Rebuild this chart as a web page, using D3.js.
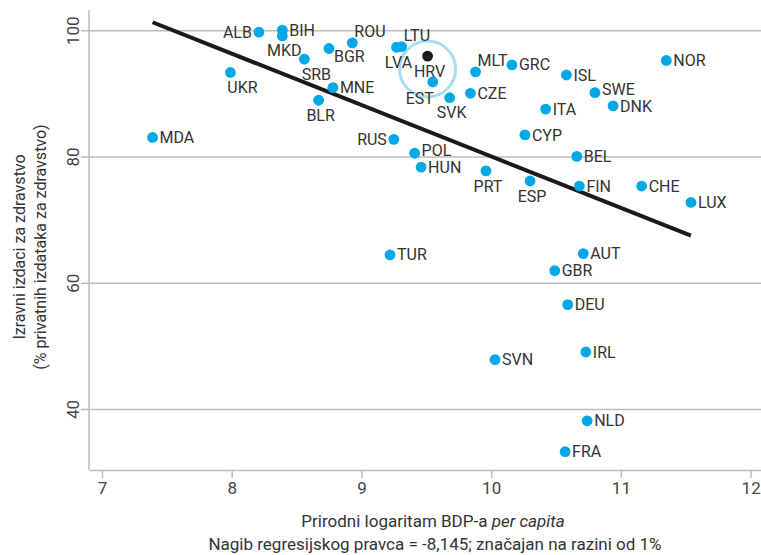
<!DOCTYPE html>
<html>
<head>
<meta charset="utf-8">
<script src="https://cdn.jsdelivr.net/npm/d3@7"></script>
<style>
  body { margin: 0; background: #fff; }
  svg text { font-family: Roboto, "Noto Sans", sans-serif; }
</style>
</head>
<body>
<div id="chart"></div>
<script>
// country codes, log GDP per capita, out-of-pocket share of private health spending
const countries = ['ALB', 'BIH', 'MKD', 'BGR', 'SRB', 'UKR', 'MNE', 'BLR', 'MDA', 'ROU',
  'LVA', 'LTU', 'HRV', 'EST', 'SVK', 'MLT', 'GRC', 'CZE', 'ISL', 'ITA', 'CYP', 'NOR',
  'SWE', 'DNK', 'BEL', 'FIN', 'CHE', 'LUX', 'RUS', 'POL', 'HUN', 'PRT', 'ESP', 'TUR',
  'AUT', 'GBR', 'DEU', 'SVN', 'IRL', 'NLD', 'FRA'];
const lnGdp = [8.21, 8.39, 8.39, 8.75, 8.56, 7.99, 8.78, 8.67, 7.39, 8.93,
  9.27, 9.31, 9.51, 9.55, 9.68, 9.88, 10.16, 9.84, 10.58, 10.42, 10.26, 11.35,
  10.80, 10.94, 10.66, 10.68, 11.16, 11.54, 9.25, 9.41, 9.46, 9.96, 10.30, 9.22,
  10.71, 10.49, 10.59, 10.03, 10.73, 10.74, 10.57];
const oopShare = [99.8, 100.1, 99.2, 97.2, 95.5, 93.4, 91.0, 89.0, 83.1, 98.1,
  97.4, 97.5, 96.0, 91.9, 89.4, 93.5, 94.6, 90.1, 93.0, 87.6, 83.5, 95.3,
  90.2, 88.1, 80.1, 75.4, 75.4, 72.8, 82.8, 80.6, 78.4, 77.8, 76.2, 64.5,
  64.7, 62.0, 56.6, 47.9, 49.1, 38.2, 33.3];
const highlight = 'HRV';
const ringAround = ['HRV', 'EST'];

// label side for each country (r = right by default)
const labelSide = {
  ALB: 'l', RUS: 'l', MKD: 'b', UKR: 'bR', SRB: 'bR', BLR: 'b', HRV: 'b', LVA: 'b',
  SVK: 'b', PRT: 'b', ESP: 'b', EST: 'bL', BGR: 'rb', ROU: 'tr', LTU: 'tr', MLT: 'tr',
  SWE: 'ru', POL: 'ru'
};

const xTicks = [7, 8, 9, 10, 11, 12];
const yTicks = [40, 60, 80, 100];
const slope = -8.145;
const intercept = 161.55;

const xTitle = 'Prirodni logaritam BDP-a ';
const xTitleItalic = 'per capita';
const subTitle = 'Nagib regresijskog pravca = -8,145; značajan na razini od 1%';
const yTitle = ['Izravni izdaci za zdravstvo', '(% privatnih izdataka za zdravstvo)'];

const W = 761, H = 555;
const margin = { top: 10, right: 0, bottom: 85, left: 89 };

const points = countries.map((c, i) => ({ code: c, x: lnGdp[i], y: oopShare[i] }));

const svg = d3.select('#chart').append('svg')
  .attr('width', W)
  .attr('height', H);

const x = d3.scaleLinear().domain([6.9, 12.08]).range([margin.left, W - margin.right]);
const y = d3.scaleLinear().domain([30.4, 103.3]).range([H - margin.bottom, margin.top]);

// horizontal grid lines + left ticks
svg.append('g')
  .selectAll('line')
  .data(yTicks)
  .enter().append('line')
    .attr('x1', margin.left - 8)
    .attr('x2', W)
    .attr('y1', d => y(d))
    .attr('y2', d => y(d))
    .style('stroke', '#bdbdbd')
    .style('stroke-width', 1.5);

svg.append('g')
  .selectAll('text')
  .data(yTicks)
  .enter().append('text')
    .attr('transform', d => `translate(${margin.left - 16},${y(d)}) rotate(-90)`)
    .attr('text-anchor', 'middle')
    .attr('dy', '0.35em')
    .style('font-size', '17px')
    .style('fill', '#444')
    .text(d => d);

// axis lines
svg.append('line')
  .attr('x1', margin.left).attr('x2', margin.left)
  .attr('y1', margin.top).attr('y2', H - margin.bottom)
  .style('stroke', '#bdbdbd').style('stroke-width', 1.5);

const xAxis = svg.append('g')
  .attr('transform', `translate(0,${H - margin.bottom})`)
  .call(d3.axisBottom(x).tickValues(xTicks).tickFormat(d3.format('d'))
    .tickSize(8).tickSizeOuter(0).tickPadding(4));
xAxis.select('.domain').style('stroke', '#bdbdbd').style('stroke-width', 1.5);
xAxis.selectAll('.tick line').style('stroke', '#bdbdbd').style('stroke-width', 1.5);
xAxis.selectAll('.tick text')
  .style('font-size', '17px')
  .style('fill', '#444')
  .style('font-family', 'Roboto, sans-serif');

// axis titles
svg.append('text')
  .attr('x', 433)
  .attr('y', 527)
  .attr('text-anchor', 'middle')
  .style('font-size', '17px')
  .style('fill', '#333')
  .text(xTitle)
  .append('tspan')
    .style('font-style', 'italic')
    .text(xTitleItalic);

svg.append('text')
  .attr('x', 435)
  .attr('y', 550)
  .attr('text-anchor', 'middle')
  .style('font-size', '17px')
  .style('fill', '#333')
  .text(subTitle);

svg.selectAll('.ytitle')
  .data(yTitle)
  .enter().append('text')
    .attr('class', 'ytitle')
    .attr('transform', (d, i) => `translate(${19 + i * 21},247) rotate(-90)`)
    .attr('text-anchor', 'middle')
    .attr('dy', '0.35em')
    .style('font-size', '16px')
    .style('fill', '#333')
    .text(d => d);

// regression line over the data range
const xr = d3.extent(lnGdp);
svg.append('line')
  .attr('x1', x(xr[0])).attr('y1', y(intercept + slope * xr[0]))
  .attr('x2', x(xr[1])).attr('y2', y(intercept + slope * xr[1]))
  .style('stroke', '#1a1a1a')
  .style('stroke-width', 4);

// ring around Croatia and Estonia
const ringPts = points.filter(p => ringAround.includes(p.code));
const hrv = points.find(p => p.code === highlight);
svg.append('circle')
  .attr('cx', x(hrv.x))
  .attr('cy', d3.mean(ringPts, p => y(p.y)))
  .attr('r', 28)
  .style('fill', 'none')
  .style('stroke', '#a9ddf6')
  .style('stroke-width', 3);

// dots
svg.append('g')
  .selectAll('circle')
  .data(points)
  .enter().append('circle')
    .attr('cx', d => x(d.x))
    .attr('cy', d => y(d.y))
    .attr('r', 5.4)
    .style('fill', d => d.code === highlight ? '#1a1a1a' : '#00a8e8');

// labels
const place = {
  r:  { dx: 7,   dy: 0,   anchor: 'start' },
  ru: { dx: 7,   dy: -3,  anchor: 'start' },
  l:  { dx: -7,  dy: 0,   anchor: 'end' },
  b:  { dx: 2,   dy: 15,  anchor: 'middle' },
  bR: { dx: 12,  dy: 15,  anchor: 'middle' },
  bL: { dx: -13, dy: 16,  anchor: 'middle' },
  rb: { dx: 5,   dy: 8,   anchor: 'start' },
  tr: { dx: 2,   dy: -11, anchor: 'start' }
};

svg.append('g')
  .selectAll('text')
  .data(points)
  .enter().append('text')
    .attr('x', d => x(d.x) + place[labelSide[d.code] || 'r'].dx)
    .attr('y', d => y(d.y) + place[labelSide[d.code] || 'r'].dy)
    .attr('dy', '0.35em')
    .attr('text-anchor', d => place[labelSide[d.code] || 'r'].anchor)
    .style('font-size', '16px')
    .style('fill', '#333')
    .text(d => d.code);
</script>
</body>
</html>
